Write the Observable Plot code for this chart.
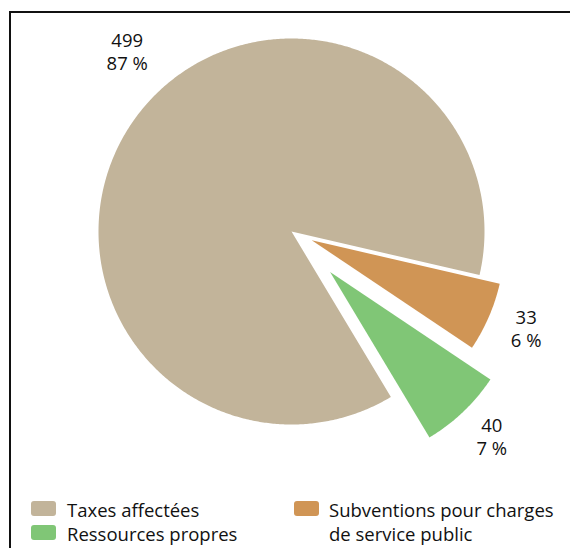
<!DOCTYPE html>
<html><head><meta charset="utf-8">
<script src="https://cdn.jsdelivr.net/npm/d3@7"></script>
<script src="https://cdn.jsdelivr.net/npm/@observablehq/plot@0.6"></script>
<style>
html,body{margin:0;padding:0;background:#fff;}
body{font-family:"Open Sans",sans-serif;color:#111;}
#wrap{position:relative;width:570px;height:548px;overflow:hidden;}
#frame{position:absolute;left:9px;top:11px;width:700px;height:700px;border-left:2px solid #111;border-top:2px solid #111;pointer-events:none;}
#legend{position:absolute;left:31px;top:498px;display:grid;grid-template-columns:263px 270px;grid-template-rows:24px 24px;font-size:18.5px;line-height:23px;}
.item{display:flex;align-items:flex-start;}
.sw{width:25px;height:15px;margin-top:3px;border-radius:3px;flex:none;}
.lab{margin-left:11px;white-space:nowrap;}
.right{grid-column:2;grid-row:1 / span 2;}
.right .lab{margin-left:10px;width:240px;white-space:normal;line-height:24px;}
</style>
</head><body>
<div id="wrap"><div id="chart"></div><div id="legend"></div><div id="frame"></div></div>
<script>
// Data
const categories = ["Taxes affectées", "Subventions pour charges de service public", "Ressources propres"];
const values = [499, 33, 40];
const legendOrder = ["Taxes affectées", "Ressources propres", "Subventions pour charges de service public"];

// Styles / layout (not data)
const colors = ["#c2b49a", "#d09555", "#80c676"];
const explode = {"Taxes affectées": 0, "Subventions pour charges de service public": 0.114, "Ressources propres": 0.29};
const R = 193;               // pixels per unit radius
const W = 570, H = 492;
const cx = 291, cy = 231;    // pie centre in the SVG
const start = 149 * Math.PI / 180;

const total = d3.sum(values);
const arcs = d3.pie().sort(null).startAngle(start).endAngle(start + 2 * Math.PI)(values);

const pts = [];
const labels = [];
arcs.forEach((a, i) => {
  const cat = categories[i];
  const mid = (a.startAngle + a.endAngle) / 2;
  const e = explode[cat];
  const ox = e * Math.sin(mid), oy = e * Math.cos(mid);
  pts.push({cat, x: ox, y: oy});
  const n = Math.ceil((a.endAngle - a.startAngle) / (Math.PI / 360));
  for (let k = 0; k <= n; k++) {
    const t = a.startAngle + (a.endAngle - a.startAngle) * k / n;
    pts.push({cat, x: ox + Math.sin(t), y: oy + Math.cos(t)});
  }
  pts.push({cat, x: ox, y: oy});
  const r = 1.2 + e;
  labels.push({cat, x: r * Math.sin(mid), y: r * Math.cos(mid),
    text: `${values[i]}\n${Math.round(values[i] / total * 100)} %`});
});

const textOpts = {x: "x", y: "y", text: "text", fontSize: 18.5, lineHeight: 1.25,
  fontFamily: "Open Sans", fill: "#111", textAnchor: "middle", lineAnchor: "middle"};

const plot = Plot.plot({
  width: W, height: H, margin: 0,
  style: {background: "transparent", overflow: "visible"},
  x: {domain: [-cx / R, (W - cx) / R], axis: null},
  y: {domain: [-(H - cy) / R, cy / R], axis: null},
  color: {domain: categories, range: colors},
  marks: [
    Plot.line(pts, {x: "x", y: "y", z: "cat", fill: "cat", stroke: "none", curve: "linear"}),
    Plot.text(labels.filter(d => d.cat === categories[0]), {...textOpts, dx: 23, dy: -44}),
    Plot.text(labels.filter(d => d.cat !== categories[0]), {...textOpts, dx: 2, dy: -4})
  ]
});
document.getElementById("chart").appendChild(plot);

// Legend (HTML) using the plot's colour scale
const color = plot.scale("color");
const colorOf = c => color.range[color.domain.indexOf(c)];
const leg = document.getElementById("legend");
legendOrder.forEach((c, i) => {
  const it = document.createElement("div");
  it.className = "item" + (i === 2 ? " right" : "");
  if (i < 2) { it.style.gridColumn = "1"; it.style.gridRow = String(i + 1); }
  const sw = document.createElement("div");
  sw.className = "sw"; sw.style.background = colorOf(c);
  const lb = document.createElement("div");
  lb.className = "lab"; lb.textContent = c;
  it.appendChild(sw); it.appendChild(lb);
  leg.appendChild(it);
});
</script>
</body></html>
